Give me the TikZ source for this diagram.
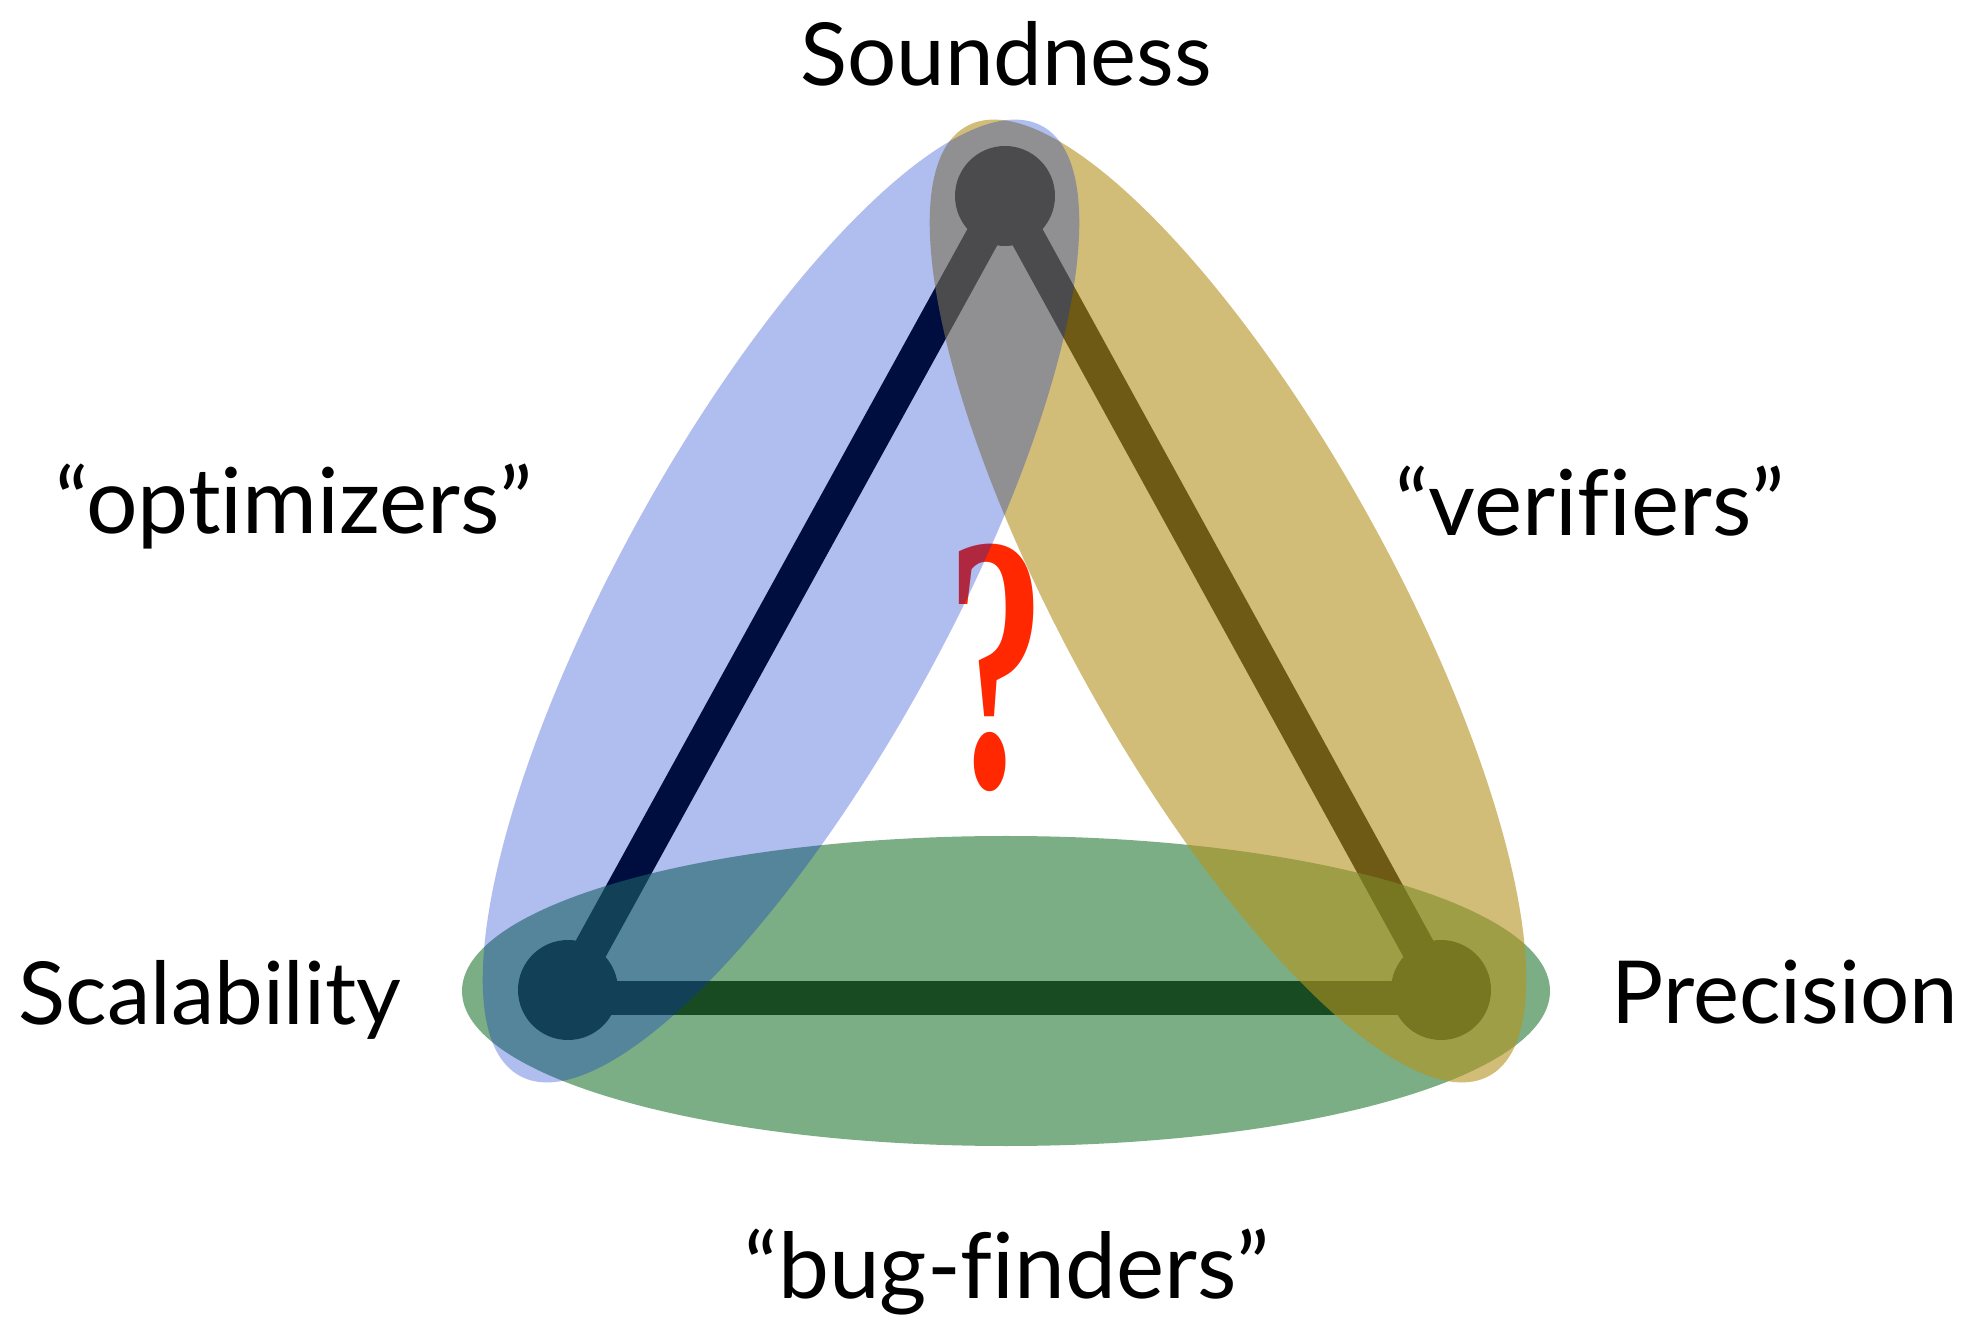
\documentclass[tikz,border=0pt]{standalone}
\usepackage{fontspec}
\setmainfont{Lato}[Ligatures=NoCommon]
\newfontfamily\qmarkfont{Liberation Serif}
\definecolor{veilblue}{RGB}{0,42,206}
\definecolor{veilgold}{RGB}{180,148,33}
\definecolor{veilgreen}{RGB}{41,123,57}
\definecolor{qred}{RGB}{255,40,0}
\begin{document}
\begin{tikzpicture}[x=1pt,y=1pt,
  vertex/.style={circle, fill=black, minimum size=100pt, inner sep=0pt},
  link/.style={line width=34pt, draw=black},
  tag/.style={font=\fontsize{87}{100}\selectfont, inner sep=0pt, anchor=base},
  quoted/.style={tag, font=\fontsize{91}{104}\selectfont},
  veil/.style={opacity=#1}]
  % canvas
  \fill[white] (0,0) rectangle (1980,1331);
  \useasboundingbox (0,0) rectangle (1980,1331);

  % the three corners of the triangle
  \node[vertex] (S) at (1005,1135) {};
  \node[vertex] (L) at (568,341) {};
  \node[vertex] (R) at (1441,341) {};

  % sides
  \draw[link] (S.center) -- (L.center);
  \draw[link] (S.center) -- (R.center);
  \draw[link] ([yshift=-8pt]L.center) -- ([yshift=-8pt]R.center);

  % question mark in the middle
  \node[inner sep=0pt, anchor=south, text=qred] (Q) at (996,539)
    {\resizebox{98pt}{242pt}{\qmarkfont\bfseries ?}};

  % translucent groupings: green, then gold, then blue on top
  \fill[veilgreen, veil=0.61] (1006,340) ellipse [x radius=544pt, y radius=155pt];
  \fill[veilgold, veil=0.61, shift={(1228,730)}, rotate=-61.17]
    (0,0) ellipse [x radius=542pt, y radius=164pt];
  \fill[veilblue, veil=0.31, shift={(781,730)}, rotate=61.17]
    (0,0) ellipse [x radius=542pt, y radius=164pt];

  % labels
  \node[tag] (tS) at (1006,1245) {Soundness};
  \node[tag] (tL) at (210,307) {Scalability};
  \node[tag] (tR) at (1785,308) {Precision};
  \node[quoted] (tO) at (294,797) {“optimizers”};
  \node[quoted] (tV) at (1590,795) {“verifiers”};
  \node[quoted] (tB) at (1007,33) {“bug-finders”};
\end{tikzpicture}
\end{document}
